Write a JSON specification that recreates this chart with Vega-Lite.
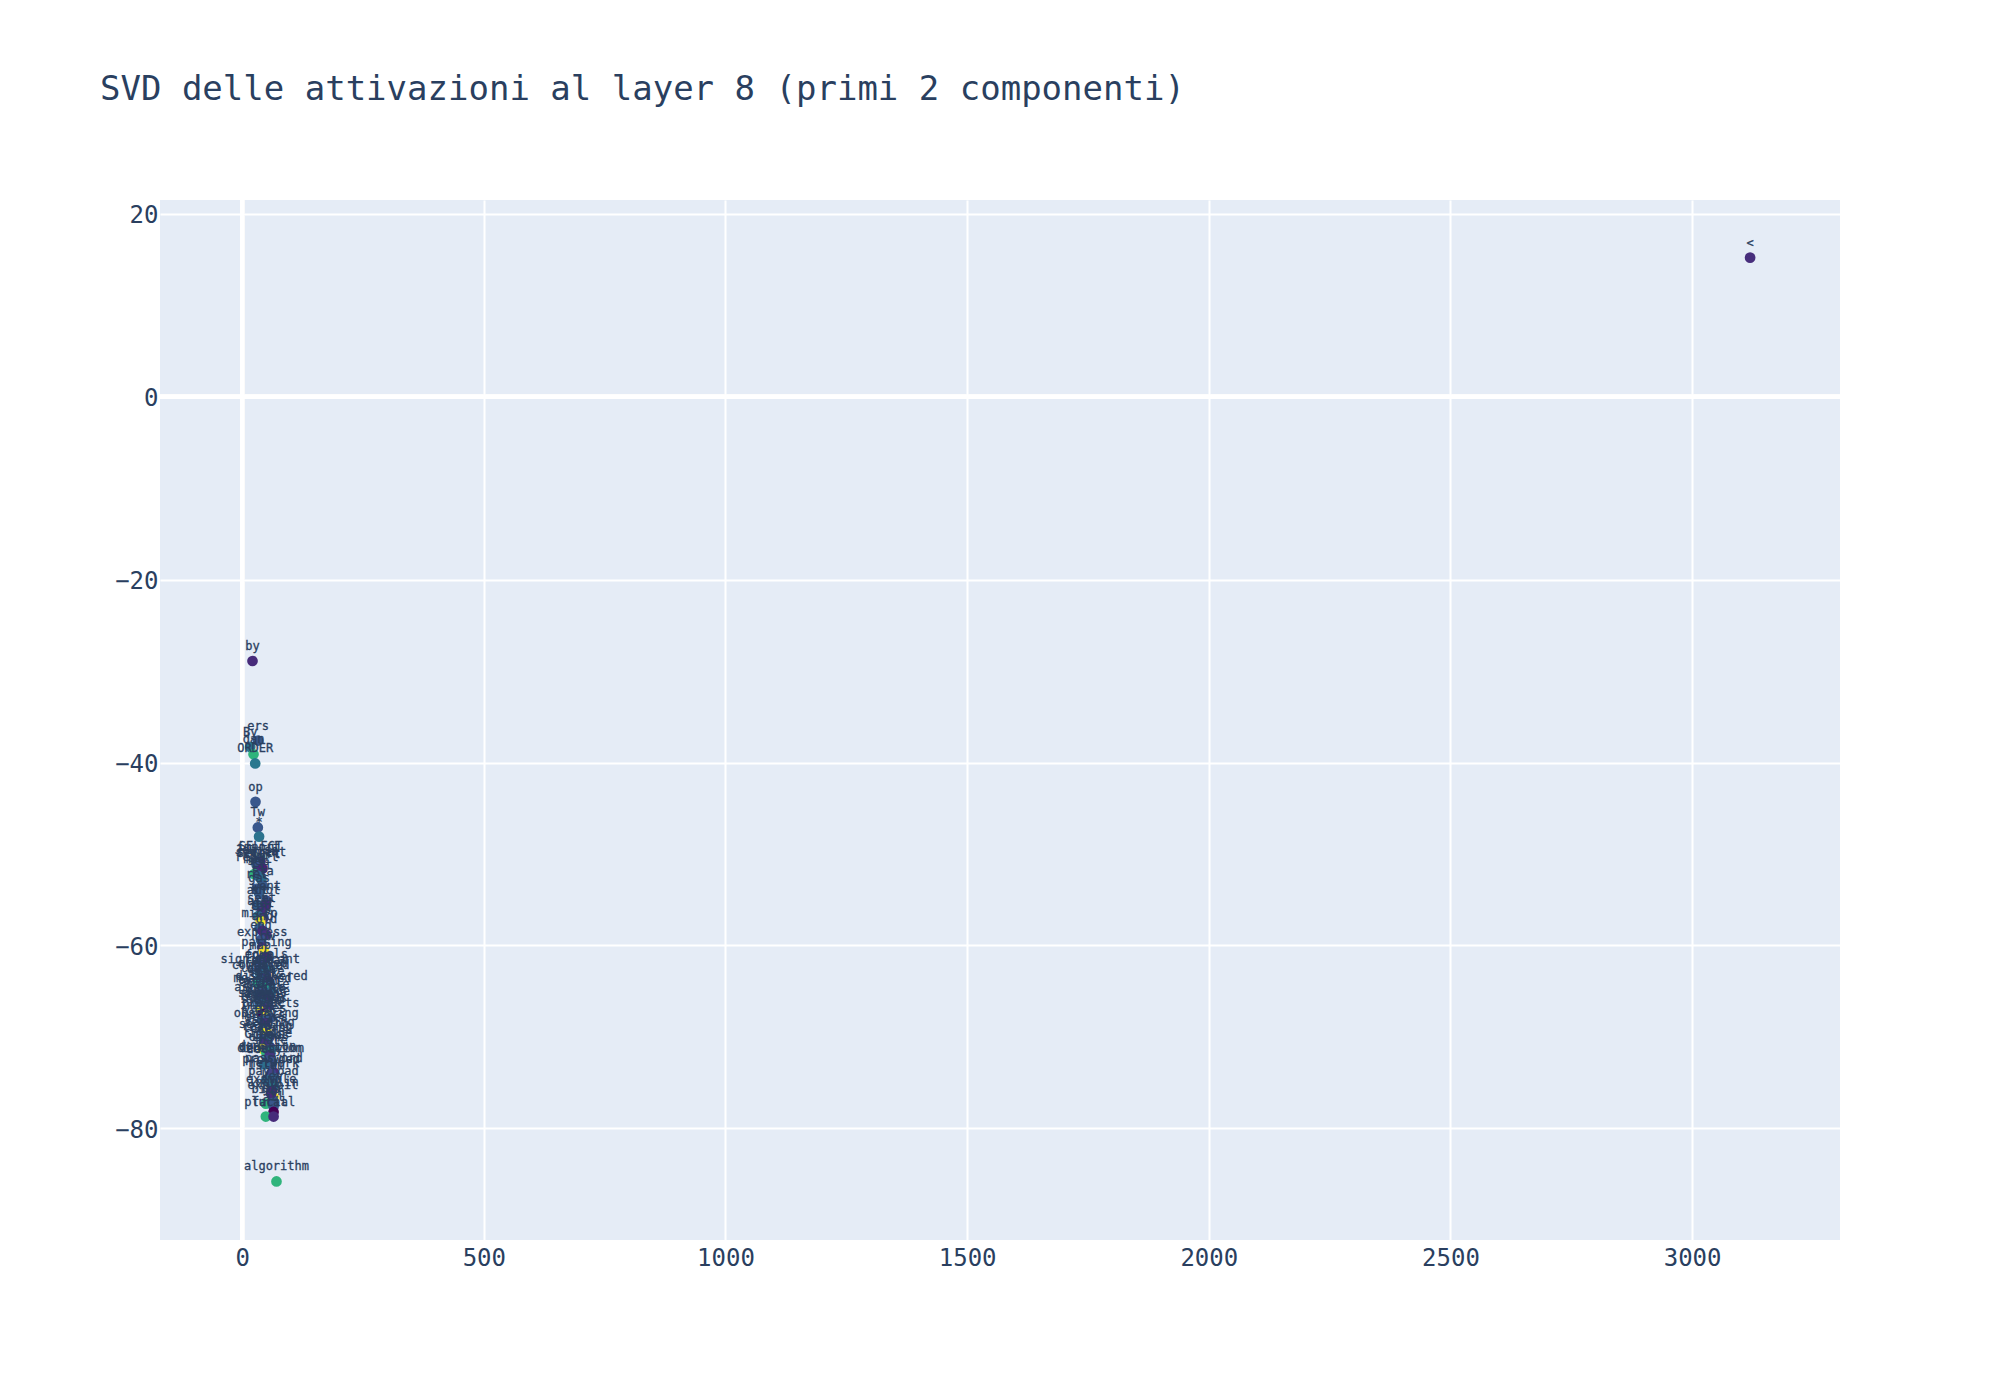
{"$schema":"https://vega.github.io/schema/vega-lite/v6.json","width":1680,"height":1040,"autosize":"none","padding":{"left":160,"top":200,"right":160,"bottom":160},"background":"white","config":{"view":{"fill":"#E5ECF6","stroke":null},"font":"DejaVu Sans Mono"},"title":{"text":"SVD delle attivazioni al layer 8 (primi 2 componenti)","font":"DejaVu Sans Mono","fontSize":34,"fontWeight":"normal","color":"#2a3f5f","anchor":"start","frame":"group","dx":-60,"offset":93},"data":{"values":[
{"token":"<","x":3120,"y":15.2,"c":0.13},
{"token":"by","x":21.4,"y":-28.9,"c":0.12},
{"token":"ers","x":33,"y":-37.6,"c":0.27},
{"token":"By","x":16.6,"y":-38.3,"c":0.38},
{"token":"dan","x":23.5,"y":-39.1,"c":0.65},
{"token":"ORDER","x":27,"y":-40.1,"c":0.4},
{"token":"op","x":27.6,"y":-44.3,"c":0.27},
{"token":"Tw","x":32.4,"y":-47.1,"c":0.27},
{"token":"*","x":35,"y":-48.1,"c":0.38},
{"token":"import","x":34,"y":-50.9,"c":0.2},
{"token":"SELECT","x":38,"y":-50.8,"c":0.14},
{"token":"Jewish","x":30,"y":-51.2,"c":0.3},
{"token":"segment","x":38.7,"y":-51.4,"c":0.18},
{"token":"Select","x":34,"y":-51.5,"c":0.25},
{"token":"court","x":42,"y":-51.6,"c":0.1},
{"token":"report","x":30.4,"y":-52,"c":0.12},
{"token":"mod","x":25,"y":-52.2,"c":0.65},
{"token":"sec","x":33,"y":-52.4,"c":0.33},
{"token":"lit","x":40,"y":-52.8,"c":0.36},
{"token":"Ela","x":42.8,"y":-53.5,"c":0.28},
{"token":"ref","x":30,"y":-53.8,"c":0.27},
{"token":"gas","x":35,"y":-54.3,"c":0.29},
{"token":"went","x":50.4,"y":-55.1,"c":0.24},
{"token":"act","x":31.8,"y":-55.6,"c":0.3},
{"token":"shot","x":49,"y":-55.6,"c":0.12},
{"token":"sent","x":40,"y":-56.4,"c":0.14},
{"token":"art","x":33,"y":-56.8,"c":0.36},
{"token":"get","x":44,"y":-57,"c":0.15},
{"token":"tag","x":38,"y":-57.3,"c":1},
{"token":"micro","x":36,"y":-58.1,"c":0.3},
{"token":"and","x":42,"y":-58.4,"c":0.12},
{"token":"old","x":50,"y":-58.8,"c":0.14},
{"token":"end","x":39,"y":-59.4,"c":0.26},
{"token":"express","x":41.4,"y":-60.2,"c":0.14},
{"token":"low","x":45,"y":-60.6,"c":1},
{"token":"parsing","x":50.4,"y":-61.3,"c":0.12},
{"token":"map","x":37,"y":-61.6,"c":0.2},
{"token":"equals","x":50,"y":-62.6,"c":0.4},
{"token":"form","x":36,"y":-62.7,"c":0.24},
{"token":"significant","x":37.3,"y":-63.1,"c":0.33},
{"token":"repeat","x":49,"y":-63.2,"c":0.2},
{"token":"sum","x":41,"y":-63.3,"c":0.4},
{"token":"created","x":42,"y":-63.6,"c":0.16},
{"token":"compared","x":38,"y":-63.8,"c":0.3},
{"token":"Gold","x":55,"y":-63.9,"c":0.13},
{"token":"logic","x":32,"y":-64.1,"c":0.62},
{"token":"data","x":40,"y":-64.2,"c":0.4},
{"token":"score","x":50,"y":-64.4,"c":0.26},
{"token":"task","x":44,"y":-64.6,"c":0.6},
{"token":"discovered","x":61,"y":-65,"c":0.36},
{"token":"measured","x":42,"y":-65.2,"c":0.22},
{"token":"target","x":34,"y":-65.4,"c":0.3},
{"token":"actual","x":39,"y":-65.6,"c":0.16},
{"token":"battle","x":53,"y":-65.9,"c":0.13},
{"token":"aspects","x":36,"y":-66.2,"c":0.27},
{"token":"module","x":46,"y":-66.4,"c":0.36},
{"token":"source","x":54,"y":-66.6,"c":0.2},
{"token":"signal","x":36,"y":-66.8,"c":0.3},
{"token":"energy","x":48,"y":-67,"c":0.13},
{"token":"factor","x":38,"y":-67.2,"c":1},
{"token":"fields","x":48,"y":-67.4,"c":0.24},
{"token":"system","x":42,"y":-67.5,"c":0},
{"token":"tree","x":52,"y":-67.6,"c":1},
{"token":"products","x":58.7,"y":-67.9,"c":0.27},
{"token":"images","x":41,"y":-68.2,"c":0.3},
{"token":"values","x":47,"y":-68.5,"c":0.14},
{"token":"observing","x":49.7,"y":-69,"c":0.12},
{"token":"models","x":44,"y":-69.2,"c":0.28},
{"token":"series","x":50,"y":-69.5,"c":1},
{"token":"sending","x":56.6,"y":-70,"c":0.22},
{"token":"seeking","x":45,"y":-70.2,"c":0.27},
{"token":"reading","x":52,"y":-70.4,"c":0.35},
{"token":"tokens","x":46,"y":-70.7,"c":0.14},
{"token":"inline","x":58.7,"y":-71.2,"c":0.16},
{"token":"Greek","x":42,"y":-71.3,"c":1},
{"token":"ideas","x":60,"y":-71.4,"c":0.38},
{"token":"cache","x":50,"y":-71.7,"c":0.65},
{"token":"share","x":57,"y":-72,"c":0.15},
{"token":"donation","x":52,"y":-72.6,"c":0.27},
{"token":"deduction","x":61.5,"y":-72.8,"c":0.3},
{"token":"direction","x":57,"y":-72.9,"c":0.24},
{"token":"decay","x":46,"y":-73,"c":0.36},
{"token":"password","x":65.6,"y":-73.9,"c":0.13},
{"token":"provided","x":60,"y":-74,"c":0.2},
{"token":"network","x":65.6,"y":-74.5,"c":0.3},
{"token":"Islam","x":50,"y":-74.7,"c":0.34},
{"token":"payload","x":64.9,"y":-75.4,"c":0.4},
{"token":"key","x":62,"y":-75.9,"c":0.12},
{"token":"insulin","x":64.9,"y":-76.6,"c":1},
{"token":"exploit","x":63.5,"y":-76.9,"c":0.28},
{"token":"example","x":60,"y":-76.2,"c":0.12},
{"token":"bits","x":49,"y":-77.3,"c":0.65},
{"token":"err","x":64,"y":-77.2,"c":0.27},
{"token":"ion","x":65,"y":-77.6,"c":0.27},
{"token":"all","x":65,"y":-78.2,"c":0},
{"token":"plural","x":49,"y":-78.7,"c":0.65},
{"token":"facial","x":65,"y":-78.7,"c":0.12},
{"token":"algorithm","x":71,"y":-85.8,"c":0.65}
]},"layer":[
{"mark":{"type":"rule","color":"white","strokeWidth":4,"clip":true},"encoding":{"x":{"datum":0,"type":"quantitative"}}},
{"mark":{"type":"rule","color":"white","strokeWidth":4,"clip":true},"encoding":{"y":{"datum":0,"type":"quantitative"}}},
{"mark":{"type":"circle","size":115,"opacity":1},"encoding":{"x":{"field":"x","type":"quantitative","scale":{"domain":[-170,3306],"nice":false,"zero":false},"axis":{"title":null,"values":[0,500,1000,1500,2000,2500,3000],"format":"d","grid":true,"gridColor":"white","gridWidth":2,"domain":false,"ticks":false,"labelFont":"DejaVu Sans Mono","labelFontSize":24,"labelColor":"#2a3f5f","labelPadding":6}},"y":{"field":"y","type":"quantitative","scale":{"domain":[-92.2,21.5],"nice":false,"zero":false},"axis":{"title":null,"values":[-80,-60,-40,-20,0,20],"format":"d","grid":true,"gridColor":"white","gridWidth":2,"domain":false,"ticks":false,"labelFont":"DejaVu Sans Mono","labelFontSize":24,"labelColor":"#2a3f5f","labelPadding":2,"labelOffset":2}},"color":{"field":"c","type":"quantitative","scale":{"scheme":"viridis","domain":[0,1]},"legend":null}}},
{"mark":{"type":"text","font":"DejaVu Sans Mono","fontSize":12,"color":"#2a3f5f","stroke":"#2a3f5f","strokeWidth":0.3,"dy":-15,"baseline":"middle","align":"center"},"encoding":{"x":{"field":"x","type":"quantitative"},"y":{"field":"y","type":"quantitative"},"text":{"field":"token"}}}
]}
